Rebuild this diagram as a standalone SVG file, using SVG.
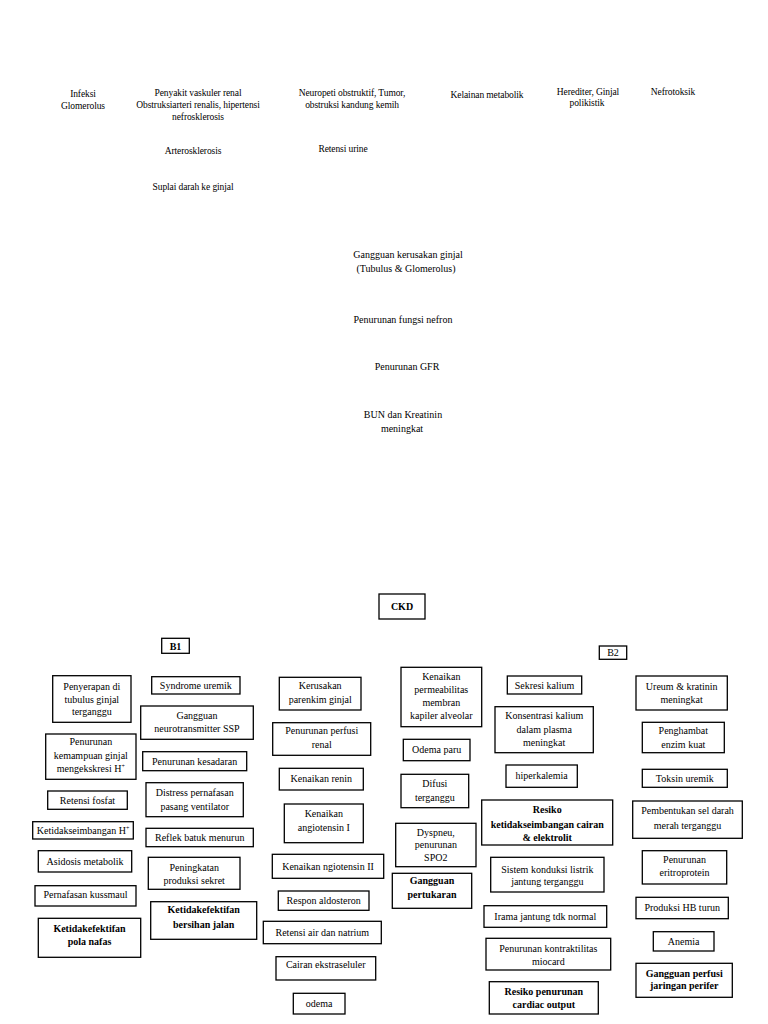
<svg xmlns="http://www.w3.org/2000/svg" width="768" height="1024" viewBox="0 0 768 1024">
<style>
.bg{fill:#fff}
.box{fill:#fff;stroke:#000;stroke-width:1.3}
text{font-family:"Liberation Serif","Times New Roman",serif;fill:#000;text-anchor:middle}
.t{font-size:10px}
.tp{font-size:9.5px;letter-spacing:-0.1px}
.b{font-size:10px;font-weight:bold}
.sup{font-size:6px}
</style>
<rect class="bg" x="0" y="0" width="768" height="1024"/>
<g id="connectors"></g>

<!-- top causes -->
<g id="n-infeksi"><text class="tp" x="83" y="97">Infeksi<tspan x="83" y="109">Glomerolus</tspan></text></g>
<g id="n-vaskuler"><text class="tp" x="198" y="96">Penyakit vaskuler renal<tspan x="198" y="108">Obstruksiarteri renalis, hipertensi</tspan><tspan x="198" y="120">nefrosklerosis</tspan></text></g>
<g id="n-arterosklerosis"><text class="tp" x="193" y="154">Arterosklerosis</text></g>
<g id="n-suplai"><text class="tp" x="193" y="190">Suplai darah ke ginjal</text></g>
<g id="n-neuropeti"><text class="tp" x="352" y="96">Neuropeti obstruktif, Tumor,<tspan x="352" y="108">obstruksi kandung kemih</tspan></text></g>
<g id="n-retensiurine"><text class="tp" x="343" y="152">Retensi urine</text></g>
<g id="n-kelainan"><text class="tp" x="487" y="98">Kelainan metabolik</text></g>
<g id="n-herediter"><text class="tp" x="588" y="95">Herediter, Ginjal<tspan x="587" y="106">polikistik</tspan></text></g>
<g id="n-nefrotoksik"><text class="tp" x="673" y="95">Nefrotoksik</text></g>

<!-- middle chain -->
<g id="n-gangguan-ginjal"><text class="t" x="408" y="258">Gangguan kerusakan ginjal<tspan x="406" y="272">(Tubulus &amp; Glomerolus)</tspan></text></g>
<g id="n-nefron"><text class="t" x="403" y="323">Penurunan fungsi nefron</text></g>
<g id="n-gfr"><text class="t" x="407" y="370">Penurunan GFR</text></g>
<g id="n-bun"><text class="t" x="403" y="418">BUN dan Kreatinin<tspan x="402" y="432">meningkat</tspan></text></g>

<!-- CKD / B1 / B2 -->
<g id="n-ckd"><rect class="box" x="379" y="594" width="46" height="25"/><text class="b" x="402" y="610">CKD</text></g>
<g id="n-b1"><rect class="box" x="161.7" y="638.3" width="27.6" height="15"/><text class="b" x="175.5" y="649.5">B1</text></g>
<g id="n-b2"><rect class="box" x="599.3" y="646" width="27.4" height="13.3"/><text class="t" x="613" y="656.3">B2</text></g>

<!-- column 1 -->
<g id="n-penyerapan"><rect class="box" x="52.7" y="675.7" width="78.3" height="46.6"/><text class="t" x="91.8" y="690">Penyerapan di<tspan x="91.8" y="702.6">tubulus ginjal</tspan><tspan x="91.8" y="715">terganggu</tspan></text></g>
<g id="n-syndrome"><rect class="box" x="151.7" y="676.7" width="88.3" height="17.3"/><text class="t" x="195.8" y="688.8">Syndrome uremik</text></g>
<g id="n-neurotransmitter"><rect class="box" x="140.7" y="706" width="112.6" height="33.3"/><text class="t" x="197" y="719.3">Gangguan<tspan x="197" y="731.5">neurotransmitter SSP</tspan></text></g>
<g id="n-kemampuan"><rect class="box" x="45.7" y="734" width="90.3" height="45.3"/><text class="t" x="90.8" y="745">Penurunan<tspan x="90.8" y="758.5">kemampuan ginjal</tspan><tspan x="90.8" y="772">mengekskresi H<tspan class="sup" dy="-4">+</tspan></tspan></text></g>
<g id="n-kesadaran"><rect class="box" x="142.7" y="751.7" width="104" height="19"/><text class="t" x="194.7" y="764.5">Penurunan kesadaran</text></g>
<g id="n-fosfat"><rect class="box" x="47.7" y="791" width="79.6" height="18.3"/><text class="t" x="87.5" y="803.5">Retensi fosfat</text></g>
<g id="n-distress"><rect class="box" x="146" y="782.7" width="97.3" height="34"/><text class="t" x="194.7" y="796">Distress pernafasan<tspan x="194.7" y="809.5">pasang ventilator</tspan></text></g>
<g id="n-ketidakseimbangan"><rect class="box" x="32.7" y="821.7" width="100.6" height="17.3"/><text class="t" x="83" y="833.8">Ketidakseimbangan H<tspan class="sup" dy="-4">+</tspan></text></g>
<g id="n-reflek"><rect class="box" x="146" y="828.3" width="107.3" height="18.4"/><text class="t" x="199.7" y="840.9">Reflek batuk menurun</text></g>
<g id="n-asidosis"><rect class="box" x="38.3" y="850.7" width="93.4" height="21.3"/><text class="t" x="85" y="864.6">Asidosis metabolik</text></g>
<g id="n-sekret"><rect class="box" x="148.3" y="857.3" width="91.7" height="32"/><text class="t" x="194.2" y="870.6">Peningkatan<tspan x="194.2" y="884">produksi sekret</tspan></text></g>
<g id="n-kussmaul"><rect class="box" x="35" y="885.7" width="101" height="20.3"/><text class="t" x="85.5" y="897.5">Pernafasan kussmaul</text></g>
<g id="n-bersihan"><rect class="box" x="150.7" y="901.7" width="106" height="37.6"/><text class="b" x="203.7" y="913.3">Ketidakefektifan<tspan x="203.7" y="927.6">bersihan jalan</tspan></text></g>
<g id="n-polanafas"><rect class="box" x="38.3" y="918.3" width="102.4" height="39"/><text class="b" x="89.5" y="931.6">Ketidakefektifan<tspan x="89.5" y="945">pola nafas</tspan></text></g>

<!-- column 2 -->
<g id="n-parenkim"><rect class="box" x="279.3" y="677.3" width="81.7" height="32.7"/><text class="t" x="320.2" y="689.3">Kerusakan<tspan x="320.2" y="702.6">parenkim ginjal</tspan></text></g>
<g id="n-perfusirenal"><rect class="box" x="272.7" y="722.7" width="98" height="32.6"/><text class="t" x="321.7" y="734.3">Penurunan perfusi<tspan x="321.7" y="747.6">renal</tspan></text></g>
<g id="n-renin"><rect class="box" x="279.3" y="768.3" width="84" height="21.7"/><text class="t" x="321.3" y="782.4">Kenaikan renin</text></g>
<g id="n-angiotensin1"><rect class="box" x="284.3" y="804" width="79" height="38.7"/><text class="t" x="323.8" y="817.3">Kenaikan<tspan x="323.8" y="830.6">angiotensin I</tspan></text></g>
<g id="n-angiotensin2"><rect class="box" x="272.3" y="854.3" width="111.4" height="24"/><text class="t" x="328" y="869.6">Kenaikan ngiotensin II</text></g>
<g id="n-aldosteron"><rect class="box" x="278.3" y="891" width="90.7" height="19.3"/><text class="t" x="323.7" y="903.9">Respon aldosteron</text></g>
<g id="n-retensiair"><rect class="box" x="263.3" y="921.3" width="118" height="22.4"/><text class="t" x="322.3" y="935.8">Retensi air dan natrium</text></g>
<g id="n-cairan"><rect class="box" x="276" y="956.7" width="99.7" height="23.3"/><text class="t" x="325.8" y="968.3">Cairan ekstraseluler</text></g>
<g id="n-odema"><rect class="box" x="293.3" y="993.3" width="51.7" height="20.7"/><text class="t" x="319.2" y="1006.9">odema</text></g>

<!-- column 3 -->
<g id="n-permeabilitas"><rect class="box" x="401" y="667.3" width="80.7" height="59.4"/><text class="t" x="441.3" y="680">Kenaikan<tspan x="441.3" y="693">permeabilitas</tspan><tspan x="441.3" y="706">membran</tspan><tspan x="441.3" y="719">kapiler alveolar</tspan></text></g>
<g id="n-odemaparu"><rect class="box" x="403.3" y="739.3" width="66.7" height="21.4"/><text class="t" x="436.7" y="753.3">Odema paru</text></g>
<g id="n-difusi"><rect class="box" x="401" y="774.3" width="67.7" height="33.4"/><text class="t" x="434.8" y="786.6">Difusi<tspan x="434.8" y="801">terganggu</tspan></text></g>
<g id="n-dyspneu"><rect class="box" x="395.7" y="823.3" width="80.3" height="43.4"/><text class="t" x="435.8" y="836">Dyspneu,<tspan x="435.8" y="848.3">penurunan</tspan><tspan x="435.8" y="860.5">SPO2</tspan></text></g>
<g id="n-pertukaran"><rect class="box" x="392.3" y="873.3" width="79.4" height="35"/><text class="b" x="432" y="884.3">Gangguan<tspan x="432" y="898.3">pertukaran</tspan></text></g>

<!-- column 4 -->
<g id="n-sekresikalium"><rect class="box" x="507.3" y="676" width="74.4" height="18"/><text class="t" x="544.5" y="688.5">Sekresi kalium</text></g>
<g id="n-konsentrasi"><rect class="box" x="495" y="706.7" width="98.3" height="46"/><text class="t" x="544.2" y="719.3">Konsentrasi kalium<tspan x="544.2" y="732.7">dalam plasma</tspan><tspan x="544.2" y="746">meningkat</tspan></text></g>
<g id="n-hiperkalemia"><rect class="box" x="506" y="765" width="71.3" height="22.3"/><text class="t" x="541.7" y="779.4">hiperkalemia</text></g>
<g id="n-resikocairan"><rect class="box" x="481.7" y="800" width="131" height="45"/><text class="b" x="547.2" y="813.3">Resiko<tspan x="547.2" y="827.5">ketidakseimbangan cairan</tspan><tspan x="547.2" y="840.5">&amp; elektrolit</tspan></text></g>
<g id="n-konduksi"><rect class="box" x="490.7" y="857.3" width="113.3" height="34.7"/><text class="t" x="547.3" y="872.6">Sistem konduksi listrik<tspan x="547.3" y="885">jantung terganggu</tspan></text></g>
<g id="n-irama"><rect class="box" x="484" y="905.7" width="122.7" height="21.6"/><text class="t" x="545.3" y="919.8">Irama jantung tdk normal</text></g>
<g id="n-kontraktilitas"><rect class="box" x="486" y="938.3" width="124.7" height="31.7"/><text class="t" x="548.3" y="951.6">Penurunan kontraktilitas<tspan x="548.3" y="965">miocard</tspan></text></g>
<g id="n-cardiac"><rect class="box" x="489.3" y="981.7" width="109" height="32.3"/><text class="b" x="543.8" y="995">Resiko penurunan<tspan x="543.8" y="1007.5">cardiac output</tspan></text></g>

<!-- column 5 -->
<g id="n-ureum"><rect class="box" x="636" y="676" width="91.3" height="34"/><text class="t" x="681.7" y="690">Ureum &amp; kratinin<tspan x="681.7" y="703.3">meningkat</tspan></text></g>
<g id="n-penghambat"><rect class="box" x="642.3" y="722.3" width="82" height="30.4"/><text class="t" x="683.3" y="734.3">Penghambat<tspan x="683.3" y="748.3">enzim kuat</tspan></text></g>
<g id="n-toksin"><rect class="box" x="642.3" y="769.3" width="85" height="18"/><text class="t" x="684.8" y="781.8">Toksin uremik</text></g>
<g id="n-pembentukan"><rect class="box" x="632.7" y="801" width="109.6" height="37.3"/><text class="t" x="687.5" y="814.3">Pembentukan sel darah<tspan x="687.5" y="828.5">merah terganggu</tspan></text></g>
<g id="n-eritroprotein"><rect class="box" x="642.3" y="850.7" width="84.4" height="33.3"/><text class="t" x="684.5" y="863.3">Penurunan<tspan x="684.5" y="876.3">eritroprotein</tspan></text></g>
<g id="n-hb"><rect class="box" x="636" y="897.3" width="92.3" height="21.4"/><text class="t" x="682.2" y="911.3">Produksi HB turun</text></g>
<g id="n-anemia"><rect class="box" x="653.3" y="931.7" width="60.7" height="19.3"/><text class="t" x="683.7" y="944.6">Anemia</text></g>
<g id="n-perfusiperifer"><rect class="box" x="636" y="963.3" width="96.3" height="34"/><text class="b" x="684.2" y="976.6">Gangguan perfusi<tspan x="684.2" y="989.3">jaringan perifer</tspan></text></g>
</svg>
